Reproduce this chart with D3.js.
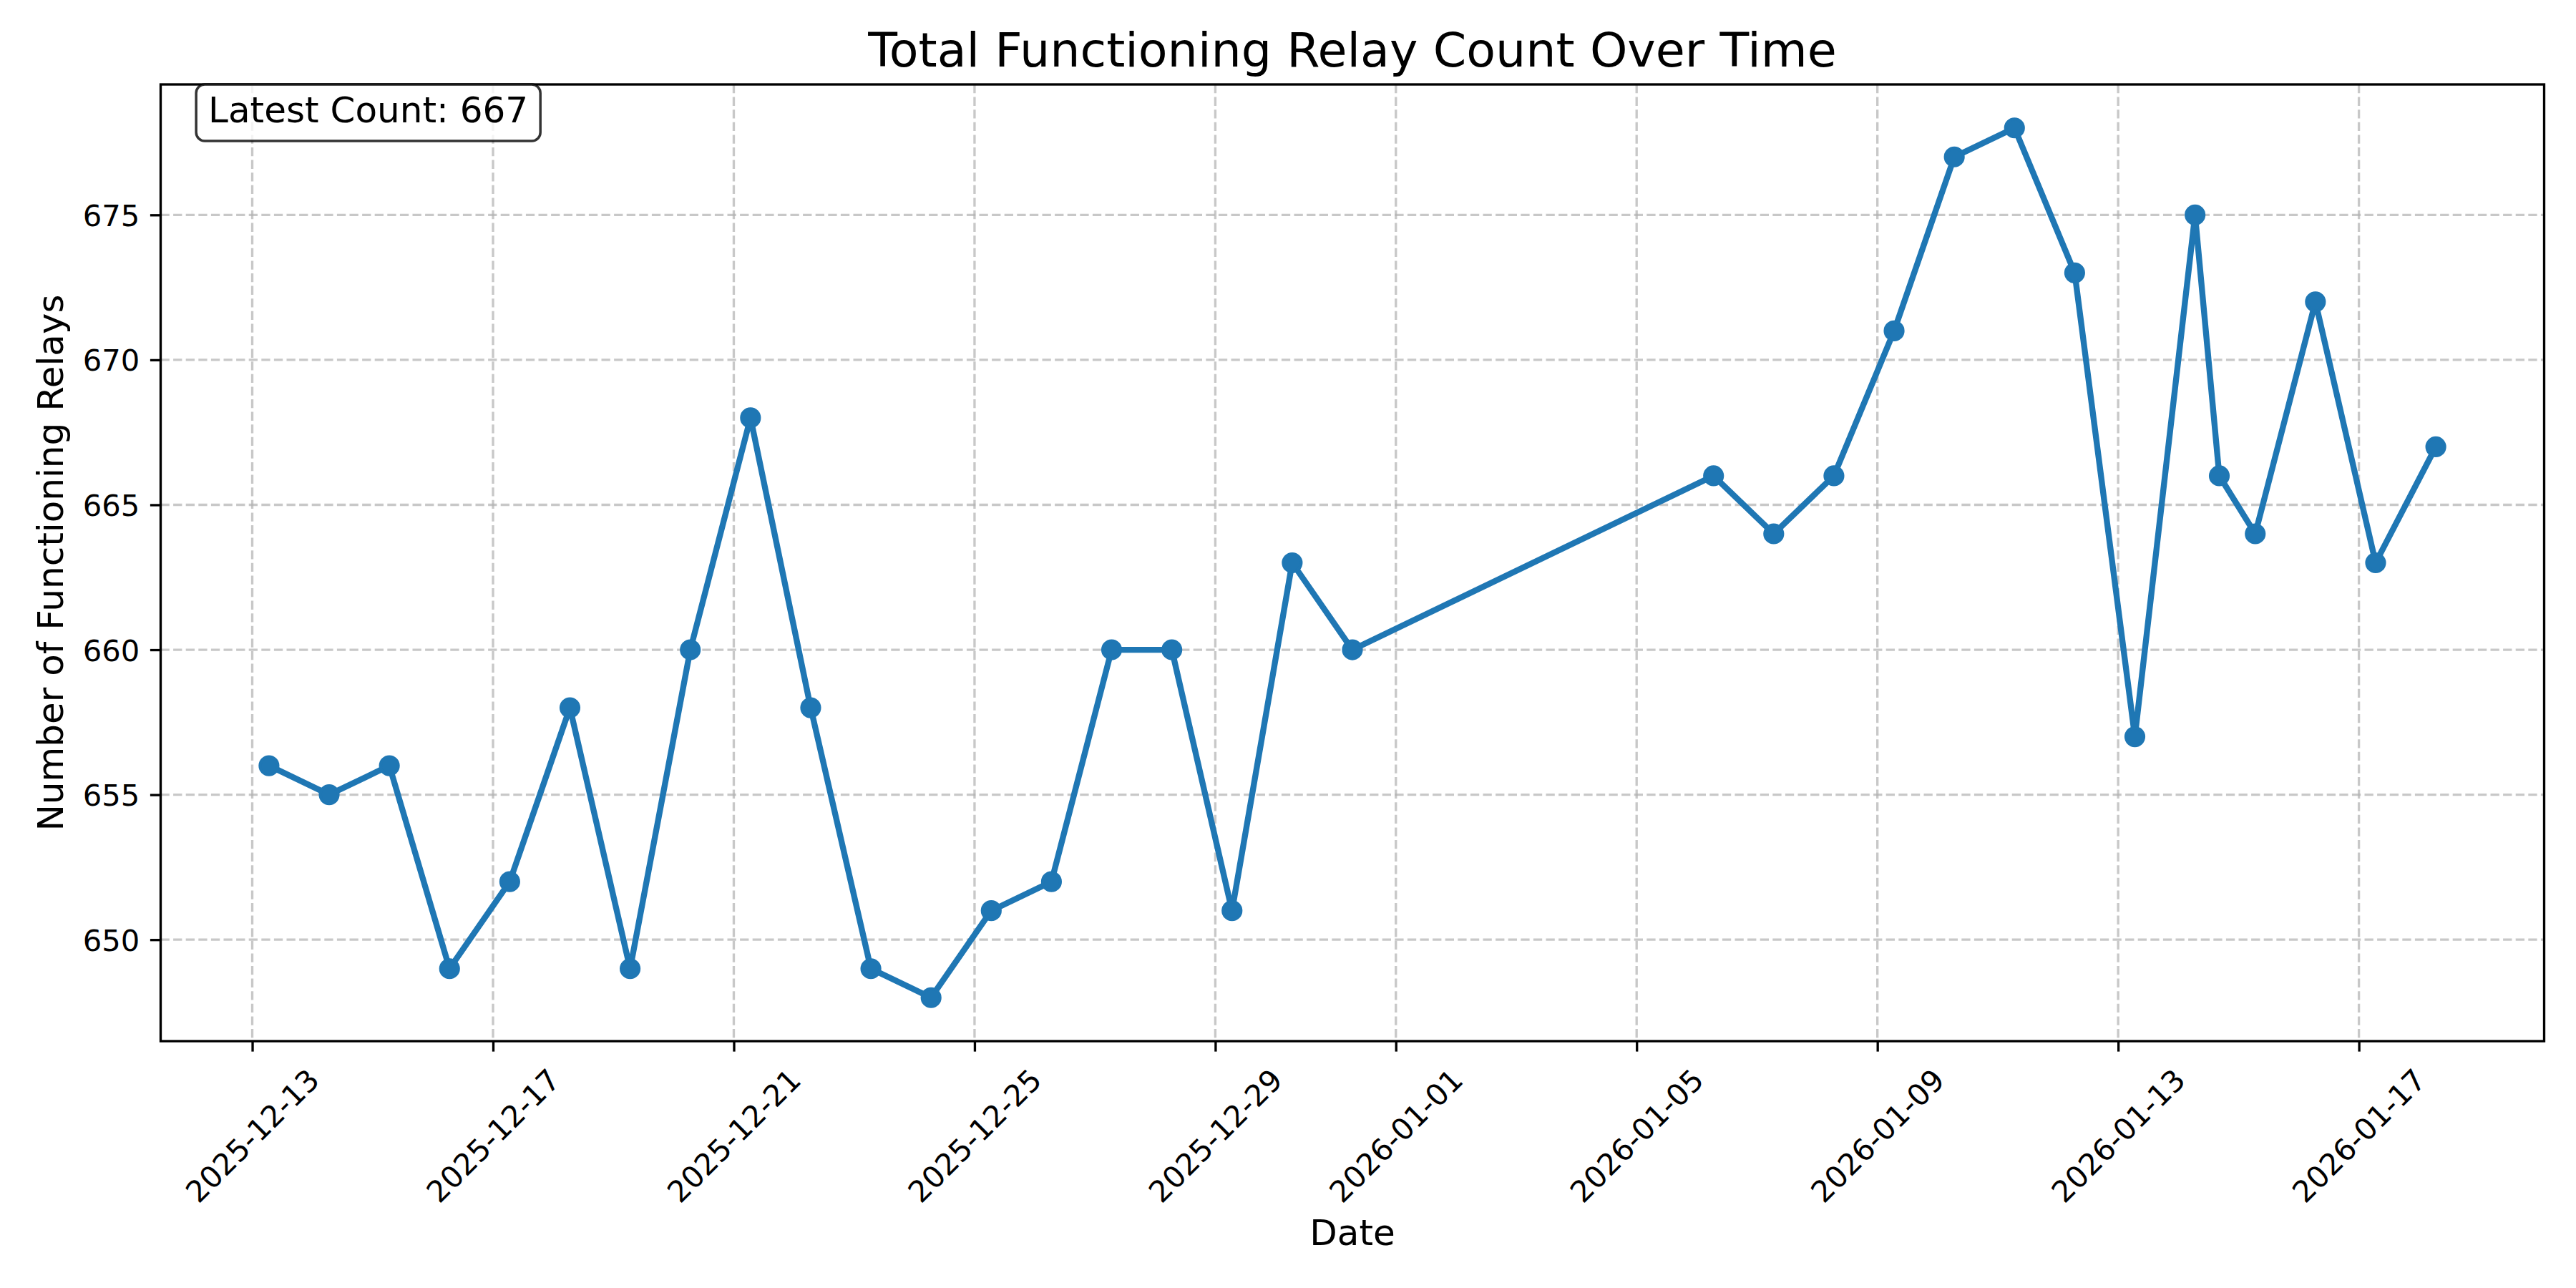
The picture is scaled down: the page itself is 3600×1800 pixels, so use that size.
<!DOCTYPE html>
<html>
<head>
<meta charset="utf-8">
<script src="https://cdn.jsdelivr.net/npm/d3@7"></script>
<style>
  html, body { margin: 0; padding: 0; background: #ffffff; }
  svg { display: block; }
  text { font-family: "DejaVu Sans", sans-serif; fill: #000; }
</style>
</head>
<body>
<svg id="chart" width="3600" height="1800"></svg>
<script>
// ---- Data ----
const timestamps = [
  "2025-12-13T06:40", "2025-12-14T06:40", "2025-12-15T06:40", "2025-12-16T06:40",
  "2025-12-17T06:40", "2025-12-18T06:40", "2025-12-19T06:40", "2025-12-20T06:40",
  "2025-12-21T06:40", "2025-12-22T06:40", "2025-12-23T06:40", "2025-12-24T06:40",
  "2025-12-25T06:40", "2025-12-26T06:40", "2025-12-27T06:40", "2025-12-28T06:40",
  "2025-12-29T06:40", "2025-12-30T06:40", "2025-12-31T06:40",
  "2026-01-06T06:40", "2026-01-07T06:40", "2026-01-08T06:40", "2026-01-09T06:40",
  "2026-01-10T06:40", "2026-01-11T06:40", "2026-01-12T06:40", "2026-01-13T06:40",
  "2026-01-14T06:40", "2026-01-14T16:20", "2026-01-15T06:40", "2026-01-16T06:40",
  "2026-01-17T06:40", "2026-01-18T06:40"
];
const relayCounts = [
  656, 655, 656, 649,
  652, 658, 649, 660,
  668, 658, 649, 648,
  651, 652, 660, 660,
  651, 663, 660,
  666, 664, 666, 671,
  677, 678, 673, 657,
  675, 666, 664, 672,
  663, 667
];
const xTickLabels = [
  "2025-12-13", "2025-12-17", "2025-12-21", "2025-12-25", "2025-12-29",
  "2026-01-01", "2026-01-05", "2026-01-09", "2026-01-13", "2026-01-17"
];
const yTickValues = [650, 655, 660, 665, 670, 675];
const titleText = "Total Functioning Relay Count Over Time";
const xLabelText = "Date";
const yLabelText = "Number of Functioning Relays";
const annotationText = "Latest Count: " + relayCounts[relayCounts.length - 1];

// ---- Layout ----
const plot = { left: 224.5, right: 3555.5, top: 118, bottom: 1455 };
const color = "#1f77b4";
const tickFont = 41.7;
const labelFont = 50;
const titleFont = 66.7;
const tickLen = 14.6;
const tickPad = 14.6;
const spineW = 3.33;

const parseT = s => new Date(s + ":00Z");
const data = timestamps.map((t, i) => ({ t: parseT(t), v: relayCounts[i] }));

// matplotlib-style 5% margins
const tExt = d3.extent(data, d => d.t.getTime());
const tSpan = tExt[1] - tExt[0];
const vExt = d3.extent(data, d => d.v);
const vSpan = vExt[1] - vExt[0];

const x = d3.scaleUtc()
  .domain([new Date(tExt[0] - 0.05 * tSpan), new Date(tExt[1] + 0.05 * tSpan)])
  .range([plot.left, plot.right]);
const y = d3.scaleLinear()
  .domain([vExt[0] - 0.05 * vSpan, vExt[1] + 0.05 * vSpan])
  .range([plot.bottom, plot.top]);

const xTicks = xTickLabels.map(s => new Date(s + "T00:00:00Z"));

const svg = d3.select("#chart");
svg.append("rect").attr("width", 3600).attr("height", 1800).attr("fill", "#fff");

// ---- Grid ----
const grid = svg.append("g");
grid.selectAll("line.gx").data(xTicks).join("line")
  .attr("x1", d => x(d)).attr("x2", d => x(d))
  .attr("y1", plot.top).attr("y2", plot.bottom)
  .attr("stroke", "#b0b0b0").attr("stroke-opacity", 0.7)
  .attr("stroke-width", 3.33).attr("stroke-dasharray", "12.3,5.3");
grid.selectAll("line.gy").data(yTickValues).join("line")
  .attr("x1", plot.left).attr("x2", plot.right)
  .attr("y1", d => y(d)).attr("y2", d => y(d))
  .attr("stroke", "#b0b0b0").attr("stroke-opacity", 0.7)
  .attr("stroke-width", 3.33).attr("stroke-dasharray", "12.3,5.3");

// ---- Line + markers ----
const line = d3.line().x(d => x(d.t)).y(d => y(d.v));
svg.append("path").datum(data)
  .attr("d", line)
  .attr("fill", "none").attr("stroke", color)
  .attr("stroke-width", 8.33).attr("stroke-linejoin", "round").attr("stroke-linecap", "square");
svg.append("g").selectAll("circle").data(data).join("circle")
  .attr("cx", d => x(d.t)).attr("cy", d => y(d.v))
  .attr("r", 12.5).attr("fill", color)
  .attr("stroke", color).attr("stroke-width", 4.17);

// ---- Axes (d3 axes, restyled) ----
const xAxis = svg.append("g").attr("transform", `translate(0,${plot.bottom})`)
  .call(d3.axisBottom(x).tickValues(xTicks).tickSize(tickLen).tickFormat(d3.utcFormat("%Y-%m-%d")));
xAxis.select(".domain").remove();
xAxis.selectAll(".tick line").attr("stroke", "#000").attr("stroke-width", spineW);
xAxis.selectAll(".tick text").remove();

const yAxis = svg.append("g").attr("transform", `translate(${plot.left},0)`)
  .call(d3.axisLeft(y).tickValues(yTickValues).tickSize(tickLen).tickFormat(d3.format("d")));
yAxis.select(".domain").remove();
yAxis.selectAll(".tick line").attr("stroke", "#000").attr("stroke-width", spineW);
yAxis.selectAll(".tick text")
  .attr("x", -(tickLen + tickPad))
  .attr("dy", "0.36em")
  .attr("font-size", tickFont)
  .attr("font-family", "DejaVu Sans")
  .attr("fill", "#000")
  .attr("text-anchor", "end");

// rotated x tick labels (45°, centered like matplotlib ha='center')
const xLabG = svg.append("g");
xTicks.forEach(d => {
  const cx = x(d);
  const t = xLabG.append("text")
    .attr("font-size", tickFont)
    .attr("text-anchor", "middle")
    .attr("dy", "0.36em")
    .text(d3.utcFormat("%Y-%m-%d")(d));
  const w = t.node().getComputedTextLength();
  const h = tickFont * 1.16;
  const half = (w + h) * Math.SQRT1_2 / 2;
  const cy = plot.bottom + tickLen + tickPad + half;
  t.attr("x", cx).attr("y", cy).attr("transform", `rotate(-45,${cx},${cy})`);
});

// ---- Spines ----
svg.append("rect")
  .attr("x", plot.left).attr("y", plot.top)
  .attr("width", plot.right - plot.left).attr("height", plot.bottom - plot.top)
  .attr("fill", "none").attr("stroke", "#000").attr("stroke-width", spineW);

// ---- Titles ----
const midX = (plot.left + plot.right) / 2;
svg.append("text").attr("x", midX).attr("y", 93)
  .attr("text-anchor", "middle").attr("font-size", titleFont).text(titleText);
svg.append("text").attr("x", midX).attr("y", 1740)
  .attr("text-anchor", "middle").attr("font-size", labelFont).text(xLabelText);
svg.append("text")
  .attr("transform", `translate(88,${(plot.top + plot.bottom) / 2}) rotate(-90)`)
  .attr("text-anchor", "middle").attr("font-size", labelFont).text(yLabelText);

// ---- Annotation box ----
const annG = svg.append("g");
const annText = annG.append("text")
  .attr("x", plot.left + 0.02 * (plot.right - plot.left))
  .attr("y", 171)
  .attr("font-size", labelFont)
  .text(annotationText);
const aw = annText.node().getComputedTextLength();
const ax0 = plot.left + 0.02 * (plot.right - plot.left);
annG.insert("rect", "text")
  .attr("x", ax0 - 17).attr("y", 118)
  .attr("width", aw + 34).attr("height", 79)
  .attr("rx", 12).attr("ry", 12)
  .attr("fill", "#fff").attr("fill-opacity", 0.8)
  .attr("stroke", "#000").attr("stroke-opacity", 0.8).attr("stroke-width", 3.5);
</script>
</body>
</html>
